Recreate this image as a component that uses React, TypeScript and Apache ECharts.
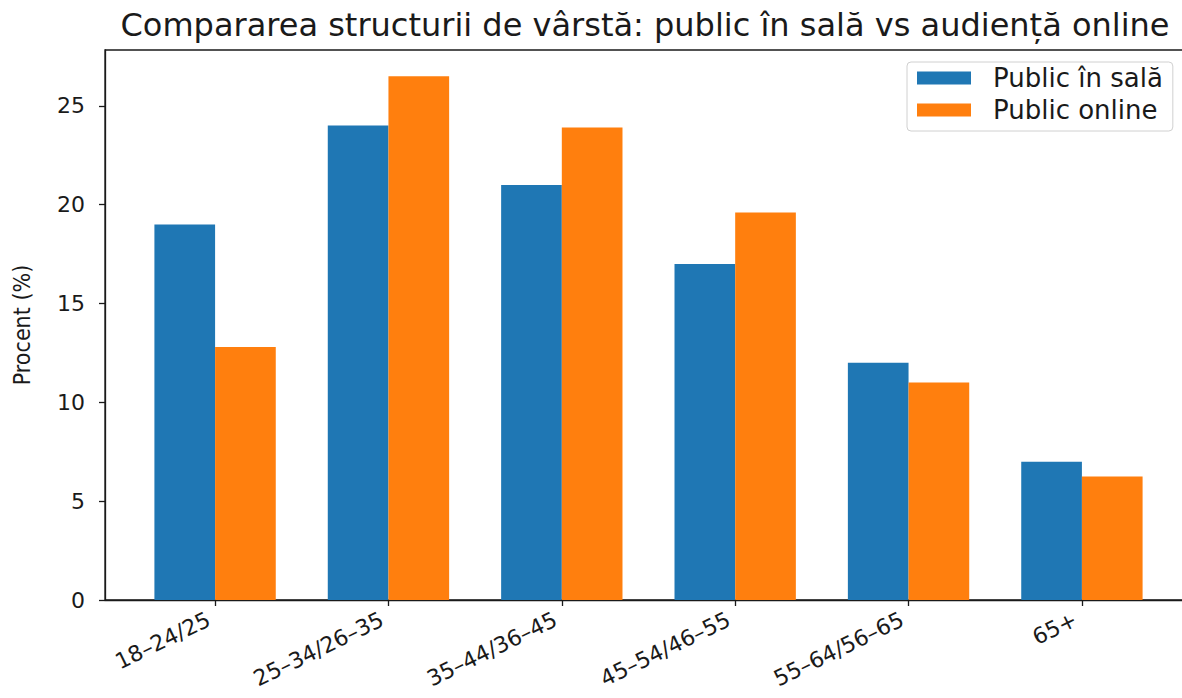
import React, { useEffect, useRef } from "react";
import * as echarts from "echarts";

const categories = ["18–24/25", "25–34/26–35", "35–44/36–45", "45–54/46–55", "55–64/56–65", "65+"];
const salaValues = [19, 24, 21, 17, 12, 7];
const onlineValues = [12.8, 26.5, 23.9, 19.6, 11.0, 6.25];
const yTicks = [0, 5, 10, 15, 20, 25];
const seriesNames = ["Public în sală", "Public online"];
const titleText = "Compararea structurii de vârstă: public în sală vs audiență online";
const yAxisName = "Procent (%)";

const FONT = "'DejaVu Sans', Verdana, sans-serif";

export default function App() {
  const ref = useRef<HTMLDivElement>(null);
  useEffect(() => {
    if (!ref.current) return;
    const chart = echarts.init(ref.current, undefined, { renderer: "svg" });
    const idx = categories.map((_, i) => i);
    const maxVal = Math.max(...salaValues, ...onlineValues);
    chart.setOption({
      animation: false,
      backgroundColor: "#ffffff",
      title: {
        text: titleText,
        left: 645,
        top: 9,
        padding: 0,
        textAlign: "center",
        textStyle: { fontFamily: FONT, fontSize: 32, fontWeight: "normal", color: "#1a1a1a" },
      },
      legend: {
        orient: "vertical",
        left: 907,
        top: 62,
        padding: [3, 10, 8, 10],
        itemGap: 6,
        itemWidth: 54,
        itemHeight: 13,
        icon: "rect",
        backgroundColor: "#ffffff",
        borderColor: "#d0d0d0",
        borderWidth: 1,
        borderRadius: 4,
        textStyle: { fontFamily: FONT, fontSize: 26, color: "#1a1a1a", lineHeight: 26, padding: [0, 0, 0, 17] },
        data: seriesNames,
      },
      grid: {
        left: 105,
        top: 50,
        width: 1087,
        bottom: 98,
        outerBoundsMode: "none",
        containLabel: false,
        show: true,
        borderColor: "#1a1a1a",
        borderWidth: 1.3,
        backgroundColor: "transparent",
      },
      xAxis: {
        type: "value",
        min: -0.635,
        max: 5.635,
        splitLine: { show: false },
        axisLine: { show: true, onZero: false, lineStyle: { color: "#1a1a1a", width: 1.3 } },
        axisTick: { show: true, customValues: idx, length: 6, lineStyle: { color: "#1a1a1a", width: 1.3 } },
        axisLabel: {
          customValues: idx,
          rotate: 26,
          margin: 15,
          padding: [0, 7, 0, 0],
          fontFamily: FONT,
          fontSize: 22,
          lineHeight: 24,
          color: "#1a1a1a",
          formatter: (v: number) => categories[Math.round(v)] ?? "",
        },
      },
      yAxis: {
        type: "value",
        min: 0,
        max: maxVal * 1.05,
        interval: 5,
        splitLine: { show: false },
        name: yAxisName,
        nameLocation: "middle",
        nameRotate: 90,
        nameGap: 72,
        nameTextStyle: { fontFamily: "'DejaVu Sans Condensed', 'Liberation Sans Narrow', 'DejaVu Sans'", fontSize: 23, color: "#1a1a1a" },
        axisLine: { show: true, onZero: false, lineStyle: { color: "#1a1a1a", width: 1.3 } },
        axisTick: { show: true, customValues: yTicks, length: 6, lineStyle: { color: "#1a1a1a", width: 1.3 } },
        axisLabel: {
          customValues: yTicks,
          margin: 20,
          fontFamily: FONT,
          fontSize: 22,
          color: "#1a1a1a",
        },
      },
      series: [
        {
          name: seriesNames[0],
          type: "bar",
          barWidth: "35%",
          barGap: "0%",
          itemStyle: { color: "#1f77b4" },
          data: salaValues.map((v, i) => [i, v]),
        },
        {
          name: seriesNames[1],
          type: "bar",
          barWidth: "35%",
          barGap: "0%",
          itemStyle: { color: "#ff7f0e" },
          data: onlineValues.map((v, i) => [i, v]),
        },
      ],
    });
    return () => chart.dispose();
  }, []);
  return <div ref={ref} style={{ position: "absolute", left: 0, top: 0, width: 1182, height: 698 }} />;
}
